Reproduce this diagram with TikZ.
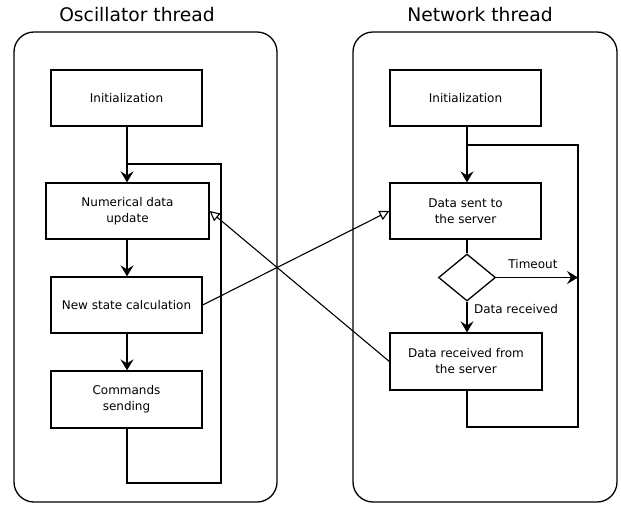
\documentclass[tikz,border=0pt]{standalone}
\usepackage{fontspec}
\setmainfont{DejaVu Sans}
\usetikzlibrary{arrows.meta,shapes.geometric}
\begin{document}
\begin{tikzpicture}[x=1pt,y=-1pt,
  every node/.style={font=\fontsize{12}{16}\selectfont},
  stepbox/.style={draw,line width=1.3pt,inner sep=0pt,minimum width=151pt,minimum height=56pt,align=center},
  container/.style={draw,line width=1.3pt,rounded corners=20pt,inner sep=0pt,minimum width=263pt,minimum height=470pt},
  title/.style={font=\fontsize{18.7}{22}\selectfont},
  flow/.style={line width=1.3pt},
  farrow/.style={flow,-{Stealth[length=11pt,width=13pt,inset=4pt]}},
  oarrow/.style={line width=1.1pt,-{Triangle[open,length=10pt,width=10pt]}},
  lab/.style={font=\fontsize{12}{14}\selectfont}
]
\useasboundingbox (0,0) rectangle (621,504);
\node[container] (lc) at (145.5,267) {};
\node[container,minimum width=264pt] (rc) at (485,267) {};
\node[title] (lt) at (137,15) {Oscillator thread};
\node[title] (rt) at (480,15) {Network thread};

\node[stepbox] (li) at (126.5,98) {Initialization};
\node[stepbox,minimum width=163pt] (num) at (127.5,211) {Numerical data\\update};
\node[stepbox] (ns) at (126.5,305) {New state calculation};
\node[stepbox,minimum height=57pt] (com) at (126.5,399.5) {Commands\\sending};

\node[stepbox] (ri) at (465.5,98) {Initialization};
\node[stepbox] (ds) at (465.5,211) {Data sent to\\the server};
\node[draw,diamond,line width=1.3pt,inner sep=0pt,minimum width=57pt,minimum height=47pt] (dia) at (467,277.5) {};
\node[stepbox,minimum width=152pt,minimum height=57pt] (dr) at (466,361.5) {Data received from\\the server};

\coordinate (lb) at (221,483);
\coordinate (lj) at (127,164);
\coordinate (rb) at (578,427);
\coordinate (rj) at (467,145);

\draw[farrow] (li.south -| lj) -- (num.north -| lj);
\draw[farrow] (num.south -| lj) -- (ns.north -| lj);
\draw[farrow] (ns.south -| lj) -- (com.north -| lj);
\draw[flow] (com.south -| lj) |- (lb) |- (lj);

\draw[farrow] (ri.south -| rj) -- (ds.north -| rj);
\draw[flow] (ds.south -| rj) -- (dia.north);
\draw[farrow] (dia.south) -- (dr.north -| rj);
\draw[farrow] (dia.east) -- (dia.east -| rb);
\draw[flow] (dr.south -| rj) |- (rb) |- (rj);
\node[lab] (drl) at (516,309) {Data received};
\node[lab] (tol) at (533,264) {Timeout};

\draw[oarrow] (ns.east) -- (ds.west);
\draw[oarrow] (dr.west) -- (num.east);
\end{tikzpicture}
\end{document}
